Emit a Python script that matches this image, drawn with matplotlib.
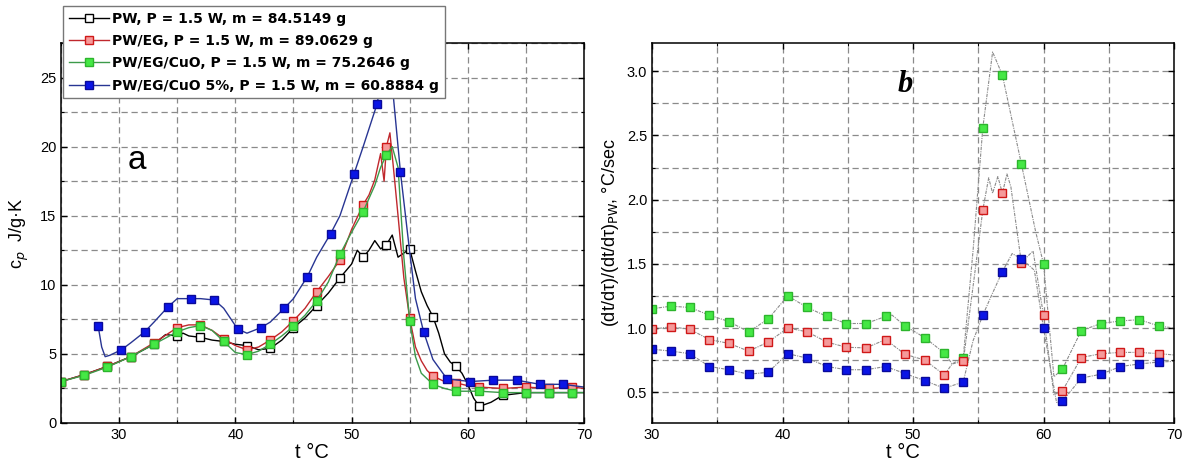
import matplotlib
matplotlib.use("Agg")
import matplotlib.pyplot as plt
from matplotlib.ticker import MultipleLocator, FormatStrFormatter

plt.rcParams['font.family'] = ['Liberation Sans', 'DejaVu Sans']

# ---- panel a: specific heat curves ----
pw_t = [25, 27, 29, 31, 33, 34, 35, 35.5, 36, 37, 38, 39, 40, 41, 42, 43, 44, 45, 46, 47, 48, 49, 50,
        50.5, 51, 51.5, 52, 52.5, 53, 53.5, 54, 54.5, 55, 55.5, 56, 56.5, 57, 57.5, 58, 58.5, 59,
        59.5, 60, 60.5, 61, 62, 63, 64, 65, 67, 69, 70]
pw_cp = [3.0, 3.5, 4.1, 4.8, 5.7, 6.4, 6.3, 6.5, 6.3, 6.2, 6.0, 5.9, 5.7, 5.6, 5.3, 5.4, 6.0, 6.9, 7.6,
         8.5, 9.4, 10.5, 11.5, 12.5, 12.0, 12.5, 13.2, 12.6, 12.9, 13.6, 12.0, 12.3, 12.6, 11.0, 9.5,
         8.5, 7.7, 6.5, 5.0, 4.4, 4.1, 3.6, 2.8, 1.8, 1.2, 1.5, 2.0, 2.1, 2.2, 2.2, 2.2, 2.2]

eg_t = [25, 27, 29, 31, 33, 35, 36, 37, 38, 39, 40, 41, 42, 43, 44, 45, 46, 47, 48, 49, 50, 51, 51.5,
        52, 52.5, 52.8, 53, 53.3, 53.6, 54, 54.5, 55, 55.5, 56, 56.5, 57, 58, 59, 60, 61, 63, 65, 67,
        69, 70]
eg_cp = [3.0, 3.5, 4.1, 4.8, 5.8, 6.9, 7.1, 7.1, 6.7, 6.1, 5.6, 5.3, 5.5, 6.0, 6.6, 7.4, 8.3, 9.5,
         10.6, 11.8, 14.0, 15.8, 16.5, 17.6, 19.5, 17.5, 20.0, 21.0, 18.5, 15.0, 10.5, 7.6, 5.5, 4.5,
         3.8, 3.4, 3.0, 2.9, 2.7, 2.6, 2.5, 2.6, 2.5, 2.6, 2.5]

cuo_t = [25, 27, 29, 31, 33, 35, 36, 37, 38, 39, 40, 41, 42, 43, 44, 45, 46, 47, 48, 49, 50, 51, 52,
         52.5, 53, 53.5, 54, 54.5, 55, 55.5, 56, 57, 58, 59, 61, 63, 65, 67, 69, 70]
cuo_cp = [3.0, 3.45, 4.05, 4.8, 5.7, 6.6, 6.9, 7.05, 6.7, 5.9, 5.1, 4.95, 5.2, 5.7, 6.3, 7.0, 7.8,
          8.85, 10.2, 12.2, 13.8, 15.3, 17.2, 18.5, 19.4, 20.0, 18.5, 12.0, 7.4, 4.8, 3.6, 2.8, 2.5,
          2.3, 2.3, 2.2, 2.2, 2.2, 2.2, 2.2]

cuo5_t = [28.2, 28.5, 28.8, 29.2, 30.2, 31, 32.2, 33, 34.2, 35, 36.2, 37, 38.2, 39, 40.2, 41, 42.2,
          43, 44.2, 45, 46.2, 47, 48.2, 49, 50.2, 51, 52.2, 52.8, 53.5, 54.2, 55, 55.5, 56.2, 57,
          58.2, 60.2, 62.2, 64.2, 66.2, 68.2, 70]
cuo5_cp = [7.0, 5.5, 4.8, 4.9, 5.3, 5.8, 6.6, 7.3, 8.4, 9.0, 9.0, 9.0, 8.9, 8.3, 6.8, 6.5, 6.9, 7.3,
           8.3, 9.0, 10.6, 12.0, 13.7, 15.0, 18.0, 20.0, 23.1, 26.0, 24.5, 18.2, 12.4, 9.0, 6.6, 4.6,
           3.2, 3.0, 3.1, 3.1, 2.8, 2.8, 2.6]

labels = ['PW, P = 1.5 W, m = 84.5149 g',
          'PW/EG, P = 1.5 W, m = 89.0629 g',
          'PW/EG/CuO, P = 1.5 W, m = 75.2646 g',
          'PW/EG/CuO 5%, P = 1.5 W, m = 60.8884 g']

# ---- panel b: heating rate ratio ----
rb_t = [30.0, 31.45, 32.9, 34.4, 35.9, 37.4, 38.9, 40.4, 41.9, 43.4, 44.9, 46.4, 47.9, 49.4, 50.9,
        52.4, 53.85, 55.35, 56.85, 58.3, 60.0, 61.45, 62.9, 64.4, 65.9, 67.35, 68.85]
rb_cuo = [1.15, 1.17, 1.16, 1.10, 1.05, 0.97, 1.07, 1.25, 1.16, 1.09, 1.035, 1.035, 1.09, 1.015,
          0.925, 0.805, 0.77, 2.56, 2.97, 2.28, 1.50, 0.68, 0.98, 1.035, 1.055, 1.065, 1.015]
rb_eg = [0.99, 1.01, 0.99, 0.91, 0.88, 0.82, 0.89, 1.00, 0.97, 0.89, 0.85, 0.845, 0.91, 0.795, 0.75,
         0.635, 0.74, 1.92, 2.05, 1.51, 1.10, 0.51, 0.77, 0.80, 0.81, 0.81, 0.80]
rb_cuo5 = [0.835, 0.82, 0.80, 0.70, 0.675, 0.64, 0.655, 0.80, 0.765, 0.70, 0.675, 0.675, 0.70, 0.645,
           0.59, 0.53, 0.58, 1.10, 1.44, 1.54, 1.00, 0.43, 0.61, 0.64, 0.70, 0.72, 0.735]

# thin grey connecting lines (include a few peaks between markers)
lb_cuo_t = [30.0, 31.45, 32.9, 34.4, 35.9, 37.4, 38.9, 40.4, 41.9, 43.4, 44.9, 46.4, 47.9, 48.4, 49.4,
            50.9, 52.4, 53.0, 53.85, 54.6, 55.35, 56.1, 56.85, 58.3, 59.4, 60.0, 60.8, 61.45, 62.9,
            64.4, 65.9, 67.35, 68.85, 70]
lb_cuo_v = [1.15, 1.17, 1.16, 1.10, 1.05, 0.97, 1.07, 1.25, 1.16, 1.09, 1.035, 1.035, 1.09, 1.10,
            1.015, 0.925, 0.805, 0.72, 0.77, 1.6, 2.56, 3.15, 2.97, 2.28, 1.75, 1.50, 0.62, 0.68,
            0.98, 1.035, 1.055, 1.065, 1.015, 1.0]
lb_eg_t = [30.0, 31.45, 32.9, 34.4, 35.9, 37.4, 38.9, 40.4, 41.9, 43.4, 44.9, 46.4, 47.9, 49.4, 50.9,
           52.4, 53.0, 53.85, 54.7, 55.35, 55.8, 56.1, 56.5, 56.85, 57.2, 57.5, 58.3, 59.2, 60.0,
           60.8, 61.45, 62.9, 64.4, 65.9, 67.35, 68.85, 70]
lb_eg_v = [0.99, 1.01, 0.99, 0.91, 0.88, 0.82, 0.89, 1.00, 0.97, 0.89, 0.85, 0.845, 0.91, 0.795, 0.75,
           0.635, 0.72, 0.74, 1.4, 1.92, 2.17, 2.05, 2.18, 2.05, 2.2, 2.1, 1.51, 1.6, 1.10, 0.48,
           0.51, 0.77, 0.80, 0.81, 0.81, 0.80, 0.79]
lb_cuo5_t = [30.0, 31.45, 32.9, 34.4, 35.9, 37.4, 38.9, 40.4, 41.9, 43.4, 44.9, 46.4, 47.9, 49.4,
             50.9, 52.4, 53.85, 54.6, 55.35, 56.0, 56.85, 57.6, 58.3, 59.3, 60.0, 61.0, 61.45, 62.9,
             64.4, 65.9, 67.35, 68.85, 70]
lb_cuo5_v = [0.835, 0.82, 0.80, 0.70, 0.675, 0.64, 0.655, 0.80, 0.765, 0.70, 0.675, 0.675, 0.70,
             0.645, 0.59, 0.53, 0.58, 0.9, 1.10, 1.25, 1.44, 1.58, 1.54, 1.45, 1.00, 0.42, 0.43,
             0.61, 0.64, 0.70, 0.72, 0.735, 0.74]


def marks(ts, start):
    # markers sit every 2 degrees from the first marked temperature
    return [i for i, t in enumerate(ts) if t >= start and abs(((t - start) % 2)) < 1e-6]


def style_axes(ax):
    ax.tick_params(which='both', direction='in', top=True, right=True, labelsize=10.5)
    ax.tick_params(which='major', length=4, width=1)
    ax.tick_params(which='minor', length=2.5, width=0.8)
    ax.grid(which='both', color='#8a8a8a', linestyle=(0, (5, 3)), linewidth=0.9)
    ax.set_axisbelow(True)
    for s in ax.spines.values():
        s.set_linewidth(1.1)


fig = plt.figure(figsize=(11.93, 4.66), dpi=100)

# left panel
ax1 = fig.add_axes([61 / 1193, 43 / 466, 523 / 1193, 380 / 466])
h1, = ax1.plot(pw_t, pw_cp, color='black', lw=1.0, marker='s', ms=6, mfc='white', mec='black',
               mew=1.0, markevery=marks(pw_t, 25), label=labels[0])
h2, = ax1.plot(eg_t, eg_cp, color='#c0282d', lw=1.0, marker='s', ms=6, mfc='#f59a9a', mec='#d01818',
               mew=1.0, markevery=marks(eg_t, 25), label=labels[1])
h3, = ax1.plot(cuo_t, cuo_cp, color='#3c9a4a', lw=1.0, marker='s', ms=6, mfc='#45e845', mec='#2db52d',
               mew=1.0, markevery=marks(cuo_t, 25), label=labels[2])
h4, = ax1.plot(cuo5_t, cuo5_cp, color='#283593', lw=1.0, marker='s', ms=6, mfc='#0a14e6', mec='#0a0a9a',
               mew=1.0, markevery=marks(cuo5_t, 28.2), label=labels[3])
ax1.set_xlim(25, 70)
ax1.set_ylim(0, 27.5)
ax1.xaxis.set_major_locator(MultipleLocator(10))
ax1.xaxis.set_minor_locator(MultipleLocator(5))
ax1.yaxis.set_major_locator(MultipleLocator(5))
ax1.yaxis.set_minor_locator(MultipleLocator(2.5))
style_axes(ax1)
ax1.set_xlabel('t \u00b0C', fontsize=14.5, labelpad=1)
ax1.xaxis.label.set_x(0.48)
ax1.set_ylabel('c$_p$  J/g\u00b7K', fontsize=13, labelpad=6)
ax1.text(31.5, 19.0, 'a', fontsize=24, ha='center', va='center')

fig.legend(handles=[h1, h2, h3, h4], loc='upper left', bbox_to_anchor=(63 / 1193, 1 - 6 / 466),
           prop={'weight': 'bold', 'size': 10, 'family': 'DejaVu Sans'}, frameon=True, fancybox=False,
           edgecolor='#777777', framealpha=1, handlelength=2.9, handletextpad=0.25, labelspacing=0.6,
           borderpad=0.4, borderaxespad=0)

# right panel
ax2 = fig.add_axes([652 / 1193, 43 / 466, 522 / 1193, 380 / 466])
line_kw = dict(color='#8c8c8c', lw=0.8, linestyle=(0, (3, 1, 1, 1)))
ax2.plot(lb_cuo_t, lb_cuo_v, **line_kw)
ax2.plot(lb_eg_t, lb_eg_v, **line_kw)
ax2.plot(lb_cuo5_t, lb_cuo5_v, **line_kw)
ax2.plot(rb_t, rb_cuo, ls='none', marker='s', ms=6, mfc='#45e845', mec='#2db52d', mew=1.0)
ax2.plot(rb_t, rb_eg, ls='none', marker='s', ms=6, mfc='#f59a9a', mec='#d01818', mew=1.0)
ax2.plot(rb_t, rb_cuo5, ls='none', marker='s', ms=6, mfc='#0a14e6', mec='#0a0a9a', mew=1.0)
ax2.set_xlim(30, 70)
ax2.set_ylim(0.26, 3.22)
ax2.xaxis.set_major_locator(MultipleLocator(10))
ax2.xaxis.set_minor_locator(MultipleLocator(5))
ax2.yaxis.set_major_locator(MultipleLocator(0.5))
ax2.yaxis.set_minor_locator(MultipleLocator(0.25))
ax2.yaxis.set_major_formatter(FormatStrFormatter('%.1f'))
style_axes(ax2)
ax2.set_xlabel('t \u00b0C', fontsize=14.5, labelpad=1)
ax2.xaxis.label.set_x(0.48)
ax2.set_ylabel('(dt/d\u03c4)/(dt/d\u03c4)$_{\\mathrm{PW}}$, \u00b0C/sec', fontsize=13, labelpad=4)
ax2.text(49.4, 2.9, 'b', fontsize=22, fontweight='bold', fontstyle='italic', family='Liberation Serif',
         ha='center', va='center')

fig.savefig('out.png', dpi=100)
